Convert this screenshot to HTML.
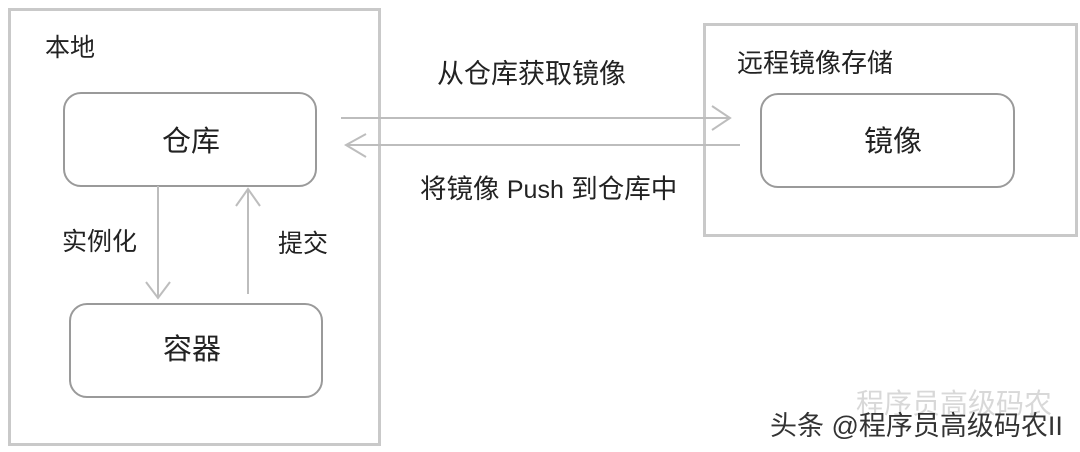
<!DOCTYPE html>
<html><head><meta charset="utf-8"><style>
body{margin:0;width:1080px;height:452px;background:#fff;position:relative;overflow:hidden;font-family:"Liberation Sans","Noto Sans CJK SC",sans-serif;color:#222}
.b{position:absolute;box-sizing:border-box}
.t{position:absolute;white-space:nowrap;font-size:25px;line-height:1}
</style></head><body>
<div class="b" style="left:8px;top:8px;width:373px;height:438px;border:3px solid #c9c9c9"></div>
<div class="b" style="left:703px;top:23px;width:375px;height:214px;border:3px solid #c9c9c9"></div>
<div class="b" style="left:63px;top:92px;width:254px;height:95px;border:2.5px solid #9a9a9a;border-radius:18px"></div>
<div class="b" style="left:69px;top:303px;width:254px;height:95px;border:2.5px solid #9a9a9a;border-radius:18px"></div>
<div class="b" style="left:760px;top:93px;width:255px;height:95px;border:2.5px solid #9a9a9a;border-radius:18px"></div>
<svg width="1080" height="452" style="position:absolute;left:0;top:0" fill="none" stroke="#bdbdbd" stroke-width="2">
<path d="M158 186V298M146 282L158 298L170 282"/>
<path d="M248 294V189M236 206L248 189L260 206"/>
<path d="M341 118H730M712 106L730 118L712 130"/>
<path d="M740 145H346M366 134L346 145L366 157"/>
</svg>
<div class="t" style="left:45px;top:36px">本地</div>
<div class="t" style="left:162px;top:128px;font-size:29px">仓库</div>
<div class="t" style="left:163px;top:336px;font-size:29px">容器</div>
<div class="t" style="left:62px;top:230px">实例化</div>
<div class="t" style="left:278px;top:232px">提交</div>
<div class="t" style="left:437px;top:61px;font-size:27px">从仓库获取镜像</div>
<div class="t" style="left:420px;top:176px;font-size:26.5px">将镜像 <span style="font-size:25px">Push</span> 到仓库中</div>
<div class="t" style="left:737px;top:50px;font-size:26px">远程镜像存储</div>
<div class="t" style="left:864px;top:128px;font-size:29px">镜像</div>
<div class="t" style="left:856px;top:390px;font-size:28px;color:#d8d8d8">程序员高级码农</div>
<div class="t" style="left:770px;top:413px;font-size:27px;color:#333">头条 @程序员高级码农II</div>
</body></html>
